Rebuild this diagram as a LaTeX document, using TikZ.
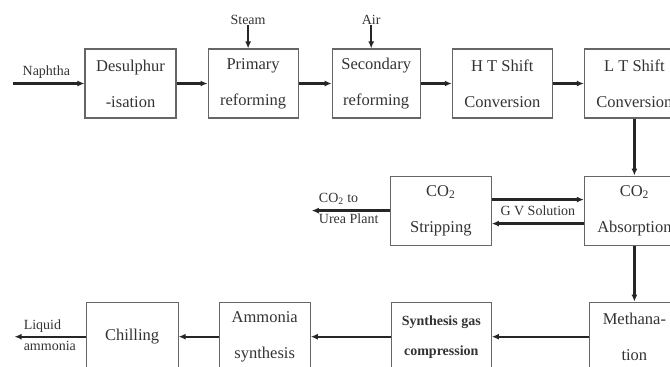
\documentclass[tikz,border=0pt]{standalone}
\usepackage{fontspec}
\setmainfont{Liberation Serif}
\usetikzlibrary{positioning,arrows.meta}

\begin{document}
\begin{tikzpicture}[x=1pt,y=-1pt,>={Latex[length=7pt,width=6pt]},node distance=31pt,
  block/.style={draw=gray!80!black,line width=1.1pt,minimum width=90pt,minimum height=69pt,align=center,inner sep=2pt,text=black!80,font=\fontsize{16.5}{36}\selectfont},
  wideblock/.style={block,minimum width=100pt},
  flow/.style={->,line width=2.4pt,black!85},
  tag/.style={inner sep=1pt,text=black!80,font=\fontsize{14}{24}\selectfont}]

  \useasboundingbox (0,0) rectangle (670,367);
  \clip (0,0) rectangle (670,367);

  % first row
  \node[block,minimum width=91pt] (desul) at (130.5,83.5) {Desulphur\\-isation};
  \node[block] (prim) [right=of desul] {Primary\\reforming};
  \node[block,minimum width=88pt] (sec) [right=33pt of prim] {Secondary\\reforming};
  \node[wideblock] (ht) [right=of sec] {H T Shift\\Conversion};
  \node[wideblock] (lt) [right=of ht] {L T Shift\\Conversion};

  % second row
  \node[wideblock] (absorp) [below=57pt of lt] {CO\textsubscript{2}\\Absorption};
  \node[wideblock,minimum width=101pt] (strip) [left=92pt of absorp] {CO\textsubscript{2}\\Stripping};

  % third row
  \node[block] (meth) [below=56pt of absorp] {Methana-\\tion};
  \node[wideblock,font=\bfseries\fontsize{14}{30}\selectfont] (comp) [left=97pt of meth] {Synthesis gas\\compression};
  \node[block,minimum width=91pt] (nh3) [left=80pt of comp] {Ammonia\\synthesis};
  \node[block,minimum width=92pt] (chill) [left=40pt of nh3] {Chilling};

  % feeds and products
  \coordinate[left=71pt of desul] (naph);
  \node[tag,anchor=south west] (naphlbl) at ([xshift=8pt,yshift=4pt]naph) {Naphtha};
  \node[tag,xshift=-5pt] (steam) [above=23pt of prim] {Steam};
  \node[tag,xshift=-5pt] (air) [above=23pt of sec] {Air};
  \coordinate[left=78pt of strip] (urea);
  \node[tag,anchor=south west] (co2to) at ([xshift=6pt,yshift=5pt]urea) {CO\textsubscript{2} to};
  \node[tag,anchor=north west] (ureapl) at ([xshift=6pt,yshift=-2pt]urea) {Urea Plant};
  \coordinate[left=71pt of chill] (liq);
  \node[tag,anchor=south west] (liqlbl) at ([xshift=8pt,yshift=3pt]liq) {Liquid};
  \node[tag,anchor=north west] (ammlbl) at ([xshift=8pt,yshift=-3pt]liq) {ammonia};

  \draw[flow] (naph) -- (desul);
  \draw[flow] (steam) -- (steam |- prim.north);
  \draw[flow] (air) -- (air |- sec.north);
  \draw[flow] (desul) -- (prim);
  \draw[flow] (prim) -- (sec);
  \draw[flow] (sec) -- (ht);
  \draw[flow] (ht) -- (lt);
  \draw[flow] (lt) -- (absorp);
  \draw[flow] ([yshift=11pt]strip.east) -- ([yshift=11pt]absorp.west);
  \draw[flow] ([yshift=-13pt]absorp.west) -- ([yshift=-13pt]strip.east);
  \path (strip) -- node[tag] (gv) {G V Solution} (absorp);
  \draw[flow] (strip) -- (urea);
  \draw[flow] (absorp) -- (meth);
  \draw[flow] (meth) -- (comp);
  \draw[flow] (comp) -- (nh3);
  \draw[flow] (nh3) -- (chill);
  \draw[flow] (chill) -- (liq);

\end{tikzpicture}
\end{document}
